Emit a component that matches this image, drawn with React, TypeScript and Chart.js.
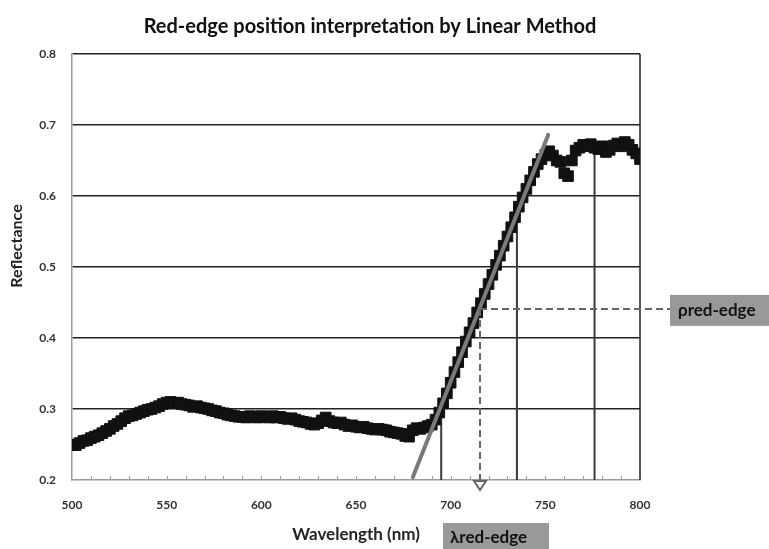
import React, { useEffect, useRef } from "react";
import { Chart, registerables } from "chart.js";

Chart.register(...registerables);

const chartTitle = "Red-edge position interpretation by Linear Method";
const xAxisTitle = "Wavelength (nm)";
const yAxisTitle = "Reflectance";

// spectrum sampled every 2 nm from 500 nm to 800 nm
const wavelengthStart = 500;
const wavelengthStep = 2;
const reflectance = [
  0.250, 0.249, 0.252, 0.255, 0.256, 0.259, 0.261, 0.263, 0.266, 0.269,
  0.272, 0.276, 0.279, 0.283, 0.287, 0.290, 0.291, 0.293, 0.295, 0.297,
  0.299, 0.300, 0.302, 0.304, 0.307, 0.309, 0.310, 0.308, 0.309, 0.307,
  0.306, 0.305, 0.303, 0.304, 0.302, 0.301, 0.300, 0.298, 0.297, 0.295,
  0.294, 0.292, 0.291, 0.290, 0.289, 0.289, 0.288, 0.290, 0.289, 0.288,
  0.290, 0.289, 0.288, 0.290, 0.288, 0.289, 0.287, 0.286, 0.287, 0.285,
  0.283, 0.282, 0.281, 0.279, 0.278, 0.280, 0.284, 0.288, 0.283, 0.281,
  0.280, 0.281, 0.278, 0.276, 0.277, 0.275, 0.274, 0.275, 0.273, 0.272,
  0.271, 0.272, 0.271, 0.270, 0.268, 0.267, 0.266, 0.265, 0.262, 0.261,
  0.270, 0.273, 0.272, 0.274, 0.276, 0.278, 0.285, 0.295, 0.308, 0.322,
  0.337, 0.352, 0.366, 0.380, 0.395, 0.408, 0.421, 0.436, 0.449, 0.462,
  0.476, 0.489, 0.503, 0.516, 0.530, 0.543, 0.556, 0.570, 0.585, 0.598,
  0.610, 0.622, 0.634, 0.645, 0.652, 0.658, 0.663, 0.657, 0.650, 0.648,
  0.632, 0.628, 0.650, 0.664, 0.668, 0.672, 0.670, 0.673, 0.668, 0.666,
  0.670, 0.662, 0.665, 0.671, 0.674, 0.670, 0.676, 0.672, 0.665, 0.660,
  0.652,
];

const xMin = 500;
const xMax = 800;
const xStep = 50;
const xMinorStep = 10;
const yMin = 0.2;
const yMax = 0.8;
const yStep = 0.1;

// linear fit through the red-edge slope
const fitLineWavelengths = [680, 751.5];
const fitLineReflectance = [0.204, 0.686];

// vertical reference lines dropped from the curve
const dropLineWavelengths = [695, 735, 776];
const dropLineTops = [0.305, 0.585, 0.668];

// interpolated red-edge point
const redEdgeWavelength = 715.5;
const redEdgeReflectance = 0.441;
const rhoLabel = "ρred-edge";
const lambdaLabel = "λred-edge";

const FONT = "Lato, 'Open Sans', sans-serif";

const overlayPlugin = {
  id: "redEdgeOverlay",
  beforeDatasetsDraw(chart: any) {
    const { ctx, scales } = chart;
    const x = scales.x;
    const y = scales.y;
    ctx.save();
    ctx.strokeStyle = "#3a3a3a";
    ctx.lineWidth = 2;
    dropLineWavelengths.forEach((w, i) => {
      const px = x.getPixelForValue(w);
      ctx.beginPath();
      ctx.moveTo(px, y.getPixelForValue(yMin));
      ctx.lineTo(px, y.getPixelForValue(dropLineTops[i]));
      ctx.stroke();
    });
    ctx.strokeStyle = "#222";
    ctx.lineWidth = 1.5;
    const rx = x.getPixelForValue(xMax);
    ctx.beginPath();
    ctx.moveTo(rx, y.getPixelForValue(yMin));
    ctx.lineTo(rx, y.getPixelForValue(yMax));
    ctx.stroke();
    ctx.strokeStyle = "#999";
    ctx.lineWidth = 1;
    const by = y.getPixelForValue(yMin);
    for (let w = xMin + xMinorStep; w < xMax; w += xMinorStep) {
      const px = Math.round(x.getPixelForValue(w)) + 0.5;
      ctx.beginPath();
      ctx.moveTo(px, by);
      ctx.lineTo(px, by - 4);
      ctx.stroke();
    }
    ctx.restore();
  },
  afterDatasetsDraw(chart: any) {
    const { ctx, scales } = chart;
    const x = scales.x;
    const y = scales.y;
    ctx.save();
    ctx.strokeStyle = "#7a7a7a";
    ctx.lineWidth = 4;
    ctx.lineCap = "round";
    ctx.beginPath();
    ctx.moveTo(x.getPixelForValue(fitLineWavelengths[0]), y.getPixelForValue(fitLineReflectance[0]));
    ctx.lineTo(x.getPixelForValue(fitLineWavelengths[1]), y.getPixelForValue(fitLineReflectance[1]));
    ctx.stroke();

    const ex = x.getPixelForValue(redEdgeWavelength);
    const ey = y.getPixelForValue(redEdgeReflectance);
    const by = y.getPixelForValue(yMin);
    const boxLeft = 670;
    ctx.strokeStyle = "#666";
    ctx.lineWidth = 2;
    ctx.lineCap = "butt";
    ctx.setLineDash([7, 4]);
    ctx.beginPath();
    ctx.moveTo(ex, ey);
    ctx.lineTo(boxLeft, ey);
    ctx.moveTo(ex, ey);
    ctx.lineTo(ex, by + 2);
    ctx.stroke();
    ctx.setLineDash([]);
    ctx.beginPath();
    ctx.moveTo(ex - 6, by + 1);
    ctx.lineTo(ex + 6, by + 1);
    ctx.lineTo(ex, by + 10);
    ctx.closePath();
    ctx.stroke();

    ctx.font = `bold 17px ${FONT}`;
    ctx.textBaseline = "middle";
    ctx.textAlign = "left";
    ctx.fillStyle = "#999";
    ctx.fillRect(boxLeft, ey - 14, 769 - boxLeft, 31);
    ctx.fillStyle = "#111";
    ctx.fillText(rhoLabel, boxLeft + 8, ey + 2);

    ctx.fillStyle = "#999";
    ctx.fillRect(443, 523, 106, 30);
    ctx.fillStyle = "#111";
    ctx.fillText(lambdaLabel, 450, 538);

    // y axis title
    ctx.save();
    ctx.translate(17, 246);
    ctx.rotate(-Math.PI / 2);
    ctx.textAlign = "center";
    ctx.font = `bold 16px ${FONT}`;
    ctx.fillStyle = "#222";
    ctx.fillText(yAxisTitle, 0, 0);
    ctx.restore();

    // chart title
    ctx.font = `bold 20px ${FONT}`;
    ctx.textAlign = "center";
    ctx.textBaseline = "alphabetic";
    ctx.fillStyle = "#111";
    ctx.fillText(chartTitle, 370, 33);
    ctx.restore();
  },
};

export default function App() {
  const canvasRef = useRef<HTMLCanvasElement | null>(null);

  useEffect(() => {
    document.body.style.margin = "0";
    document.body.style.overflow = "hidden";
    const canvas = canvasRef.current;
    if (!canvas) return;
    const points = reflectance.map((r, i) => ({ x: wavelengthStart + i * wavelengthStep, y: r }));
    const chart = new Chart(canvas, {
      type: "scatter",
      data: {
        datasets: [
          {
            label: "Reflectance",
            data: points,
            pointStyle: "rect",
            pointRadius: 7.5,
            pointBorderWidth: 1,
            backgroundColor: "#111",
            borderColor: "#111",
          },
        ],
      },
      options: {
        responsive: false,
        animation: false,
        devicePixelRatio: 1,
        layout: { padding: { top: 54, right: 129, left: 0, bottom: 0 } },
        plugins: {
          legend: { display: false },
          tooltip: { enabled: false },
          title: { display: false },
        },
        scales: {
          x: {
            type: "linear",
            min: xMin,
            max: xMax,
            afterFit: (s: any) => { s.height = 69; },
            ticks: {
              stepSize: xStep,
              padding: 18,
              color: "#333",
              font: { family: FONT, size: 12, weight: "bold" },
            },
            grid: { display: false, drawTicks: false },
            border: { color: "#999", width: 1.5 },
            title: {
              display: true,
              text: xAxisTitle,
              color: "#222",
              padding: { top: 0, bottom: 4 },
              font: { family: FONT, size: 17, weight: "bold" },
            },
          },
          y: {
            min: yMin,
            max: yMax,
            afterFit: (s: any) => { s.width = 72; },
            ticks: {
              stepSize: yStep,
              padding: 16,
              color: "#333",
              callback: (v: any) => Number(v).toFixed(1),
              font: { family: FONT, size: 12, weight: "bold" },
            },
            grid: {
              drawTicks: false,
              color: (c: any) => (c.tick && Math.abs(c.tick.value - yMin) < 1e-6 ? "rgba(0,0,0,0)" : "#222"),
              lineWidth: 1.5,
            },
            border: { color: "#999", width: 1.5 },
            title: { display: false },
          },
        },
      },
      plugins: [overlayPlugin],
    });
    return () => chart.destroy();
  }, []);

  return <canvas ref={canvasRef} width={769} height={549} style={{ display: "block", width: 769, height: 549 }} />;
}
